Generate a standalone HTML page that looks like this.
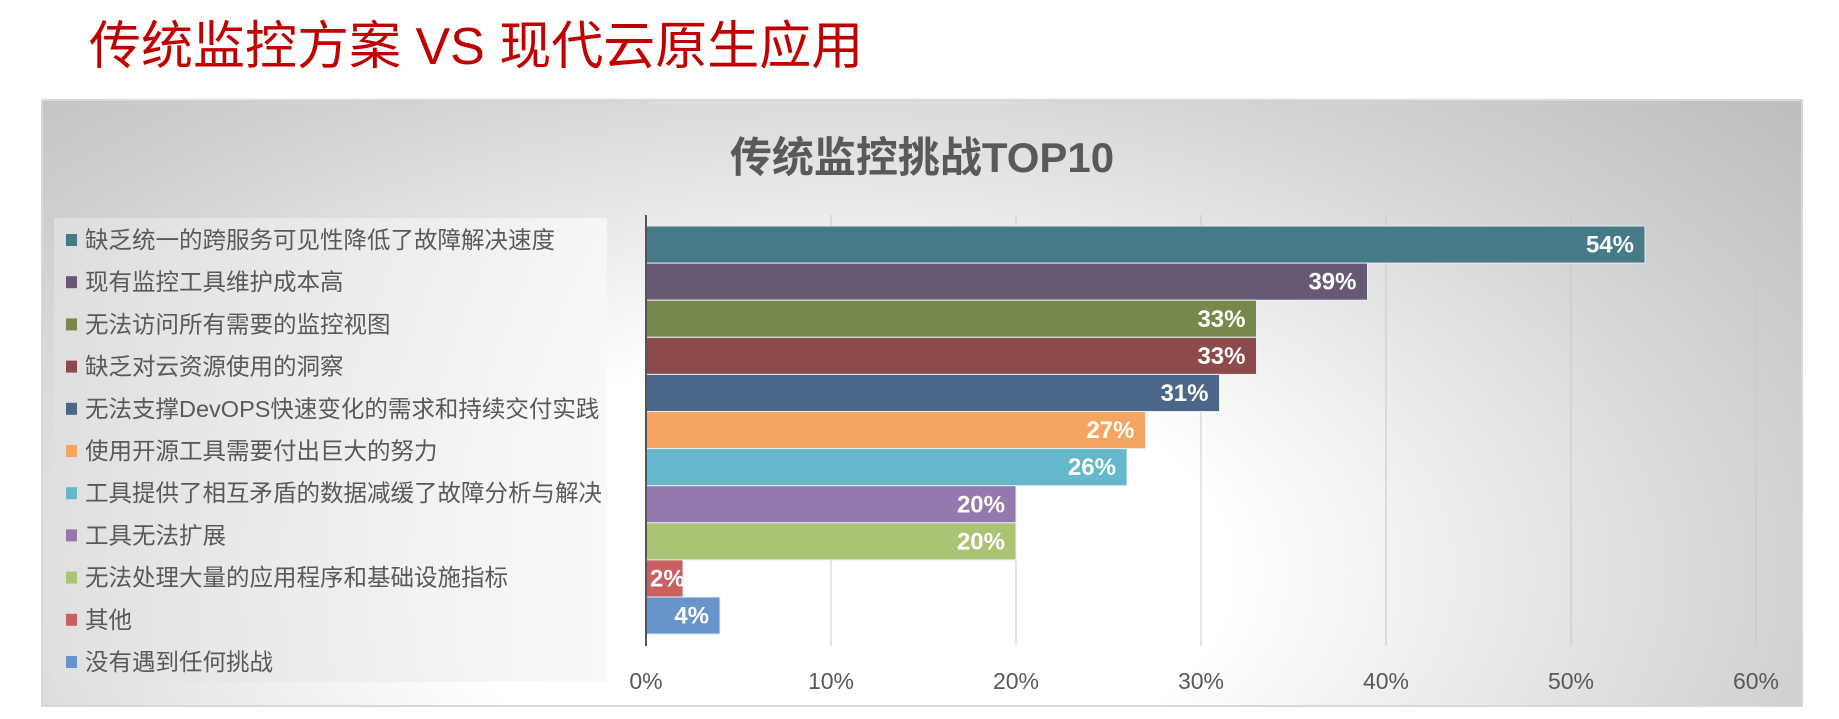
<!DOCTYPE html>
<html><head><meta charset="utf-8"><style>
html,body{margin:0;padding:0;background:#fff;width:1839px;height:719px;overflow:hidden;}
svg{display:block;font-family:"Liberation Sans","Noto Sans CJK SC",sans-serif;}
</style></head><body>
<svg id="chart" width="1839" height="719" viewBox="0 0 1839 719" xmlns="http://www.w3.org/2000/svg">
<defs>
<radialGradient id="bg" cx="0.45" cy="0.78" r="0.75" gradientTransform="translate(0.45 0.78) scale(1 1.6) translate(-0.45 -0.78)">
<stop offset="0" stop-color="#ffffff"/><stop offset="0.3" stop-color="#ffffff"/><stop offset="0.75" stop-color="#d0d0d0"/><stop offset="1" stop-color="#bbbbbb"/>
</radialGradient>
<linearGradient id="lg" x1="0" y1="0" x2="1" y2="0"><stop offset="0" stop-color="#e0e0e0"/><stop offset="1" stop-color="#f8f8f8"/></linearGradient>
</defs>
<text x="89" y="64" font-size="52" fill="#c00000" font-family="Liberation Sans, Noto Sans CJK SC, sans-serif">传统监控方案 VS 现代云原生应用</text>
<rect x="42" y="100" width="1760" height="606" fill="url(#bg)" stroke="#d8d8d8" stroke-width="2"/>
<text x="922" y="172" font-size="42" font-weight="bold" fill="#595959" text-anchor="middle">传统监控挑战TOP10</text>
<rect x="54" y="218" width="553" height="464" fill="url(#lg)" opacity="0.85"/>
<g id="grid"></g><g id="bars"></g><g id="legend"></g><g id="ticks"></g>
<line x1="646" y1="215" x2="646" y2="646" stroke="#555" stroke-width="2"/>
</svg>
<script>
const categories=["缺乏统一的跨服务可见性降低了故障解决速度","现有监控工具维护成本高","无法访问所有需要的监控视图","缺乏对云资源使用的洞察","无法支撑DevOPS快速变化的需求和持续交付实践","使用开源工具需要付出巨大的努力","工具提供了相互矛盾的数据减缓了故障分析与解决","工具无法扩展","无法处理大量的应用程序和基础设施指标","其他","没有遇到任何挑战"];
const values=[54,39,33,33,31,27,26,20,20,2,4];
const colors=["#457b89","#675876","#76884a","#8c4a4a","#4a6689","#f6a461","#65b8cc","#9479ae","#abc374","#c96060","#6795c9"];
const tickValues=[0,10,20,30,40,50,60];
const tickLabels=["0%","10%","20%","30%","40%","50%","60%"];
const NS="http://www.w3.org/2000/svg";
const x0=646,xStep=18.5,barTop=226,band=37.1,legTop=240,legStep=42.2;
function xs(v){return x0+v*xStep;}
function ys(i){return barTop+i*band;}
function mk(t,a,p){const e=document.createElementNS(NS,t);for(const k in a)e.setAttribute(k,a[k]);p.appendChild(e);return e;}
const grid=document.getElementById('grid'),bars=document.getElementById('bars'),leg=document.getElementById('legend'),ticks=document.getElementById('ticks');
tickValues.forEach((v,i)=>{
  if(v>0){const l=mk('line',{x1:xs(v),y1:215,x2:xs(v),y2:646,stroke:'#c8c8c8','stroke-width':1},grid);
  
  }
  const t=mk('text',{x:xs(v),y:689,'font-size':23,fill:'#595959','text-anchor':'middle'},ticks);
  t.textContent=tickLabels[i];
  
  
});
values.forEach((v,i)=>{
  const y=ys(i),w=xs(v)-x0;
  const cp=mk('clipPath',{id:'c'+i},bars);mk('rect',{x:x0,y:y,width:w,height:band},cp);
  const r=mk('rect',{x:x0,y:y,width:w,height:band,fill:colors[i],stroke:'#e8eef0','stroke-width':1},bars);
  
  
  const small=w<60;
  const t=mk('text',{x:small?x0+4:xs(v)-11,y:y+band/2+8,'font-size':24,'font-weight':'bold',fill:'#fff','text-anchor':small?'start':'end','clip-path':'url(#c'+i+')'},bars);
  t.textContent=v+'%';
  
  
});
categories.forEach((c,i)=>{
  const y=legTop+i*legStep;
  const s=mk('rect',{x:66,y:y-6,width:11,height:12,fill:colors[i]},leg);
  
  
  const t=mk('text',{x:85,y:y+8,'font-size':23.5,fill:'#595959'},leg);
  t.textContent=c;
  
  
});
</script>
</body></html>
